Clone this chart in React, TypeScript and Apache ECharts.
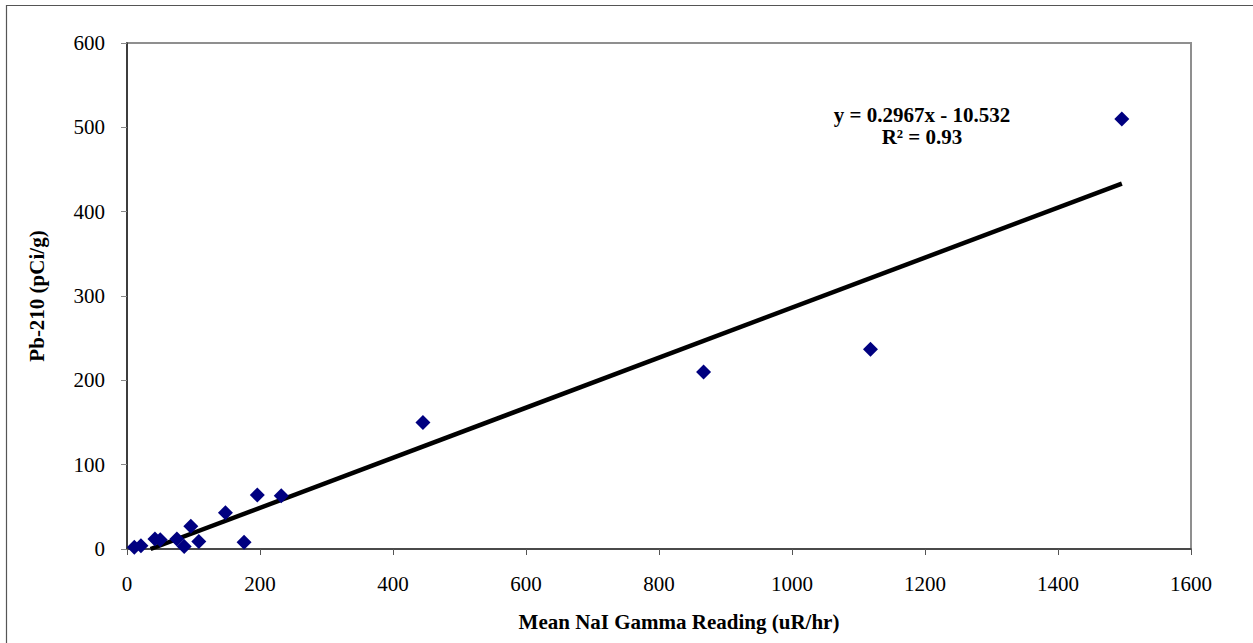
import React, { useEffect, useRef } from "react";
import * as echarts from "echarts";

// Mean NaI gamma reading (uR/hr) paired with Pb-210 concentration (pCi/g)
const gammaReadings = [11, 21, 42, 50, 75, 86, 96, 108, 148, 176, 196, 232, 445, 867, 1118, 1496];
const pb210Values = [2, 4, 12, 11, 12, 3, 27, 9, 43, 8, 64, 63, 150, 210, 237, 510];

// Linear fit reported on the chart
const slope = 0.2967;
const intercept = -10.532;
const rSquared = 0.93;

const xTicks = { min: 0, max: 1600, interval: 200 };
const yTicks = { min: 0, max: 600, interval: 100 };

const FONT = "'Liberation Serif', 'Times New Roman', serif";

export default function App() {
  const ref = useRef<HTMLDivElement>(null);

  useEffect(() => {
    if (!ref.current) return;
    const chart = echarts.init(ref.current, undefined, { renderer: "svg" });

    const points = gammaReadings.map((x, i) => [x, pb210Values[i]]);
    const xMax = Math.max(...gammaReadings);
    // trend line starts where the fit crosses zero (axis minimum)
    const xStart = -intercept / slope;
    const trend = [
      [xStart, slope * xStart + intercept],
      [xMax, slope * xMax + intercept],
    ];

    const plain = (v: number) => String(v);

    chart.setOption({
      animation: false,
      backgroundColor: "#ffffff",
      grid: {
        left: 127,
        top: 43,
        right: 62,
        bottom: 94,
        show: true,
        borderColor: "#8f8f8f",
        borderWidth: 2,
        backgroundColor: "transparent",
      },
      xAxis: {
        type: "value",
        min: xTicks.min,
        max: xTicks.max,
        interval: xTicks.interval,
        name: "Mean NaI Gamma Reading (uR/hr)",
        nameLocation: "middle",
        nameGap: 62,
        nameTextStyle: {
          fontFamily: FONT,
          fontWeight: "bold",
          fontSize: 21,
          color: "#000",
          padding: [0, 0, 0, 40],
        },
        axisLine: { show: true, lineStyle: { color: "#333", width: 1.5 } },
        axisTick: { show: true, inside: false, length: 6, lineStyle: { color: "#555" } },
        axisLabel: { fontFamily: FONT, fontSize: 21, color: "#000", margin: 24, formatter: plain },
        splitLine: { show: false },
      },
      yAxis: {
        type: "value",
        min: yTicks.min,
        max: yTicks.max,
        interval: yTicks.interval,
        name: "Pb-210 (pCi/g)",
        nameLocation: "middle",
        nameGap: 80,
        nameRotate: 90,
        nameTextStyle: { fontFamily: FONT, fontWeight: "bold", fontSize: 21, color: "#000" },
        axisLine: { show: true, lineStyle: { color: "#222", width: 1.5 } },
        axisTick: { show: true, inside: false, length: 6, lineStyle: { color: "#888" } },
        axisLabel: { fontFamily: FONT, fontSize: 21, color: "#000", margin: 22, formatter: plain },
        splitLine: { show: false },
      },
      series: [
        {
          type: "line",
          data: trend,
          symbol: "none",
          lineStyle: { color: "#000", width: 4.5 },
          z: 2,
        },
        {
          type: "scatter",
          data: points,
          symbol: "diamond",
          symbolSize: 15,
          itemStyle: { color: "#000080", opacity: 1 },
          z: 3,
        },
      ],
      graphic: [
        {
          type: "line",
          shape: { x1: 6, y1: 5.5, x2: 1253, y2: 5.5 },
          style: { stroke: "#555", lineWidth: 1.2 },
          silent: true,
        },
        {
          type: "line",
          shape: { x1: 6.5, y1: 5, x2: 6.5, y2: 643 },
          style: { stroke: "#555", lineWidth: 1.2 },
          silent: true,
        },
        {
          type: "text",
          x: 922,
          y: 115,
          style: {
            text: `y = ${slope}x - ${Math.abs(intercept)}`,
            fontFamily: FONT,
            fontWeight: "bold",
            fontSize: 21,
            fill: "#000",
            align: "center",
            verticalAlign: "middle",
          },
        },
        {
          type: "text",
          x: 922,
          y: 137,
          style: {
            text: `R² = ${rSquared}`,
            fontFamily: FONT,
            fontWeight: "bold",
            fontSize: 21,
            fill: "#000",
            align: "center",
            verticalAlign: "middle",
          },
        },
      ],
    });

    return () => chart.dispose();
  }, []);

  return (
    <div
      ref={ref}
      style={{ position: "fixed", left: 0, top: 0, width: 1253, height: 643 }}
    />
  );
}
